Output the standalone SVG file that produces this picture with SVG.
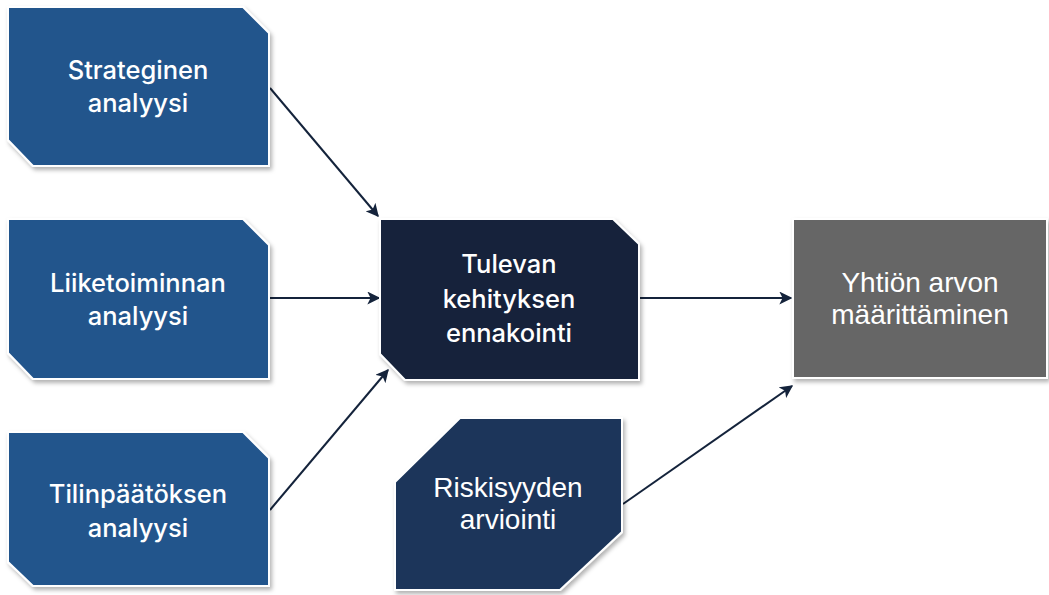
<svg xmlns="http://www.w3.org/2000/svg" width="1049" height="595" viewBox="0 0 1049 595">
<defs>
<filter id="sh" x="-10%" y="-10%" width="125%" height="125%">
<feDropShadow dx="2" dy="3" stdDeviation="2" flood-color="#000" flood-opacity="0.3"/>
</filter>
<marker id="ah" viewBox="0 0 10 10" refX="9" refY="5" markerWidth="6.5" markerHeight="6.5" orient="auto" markerUnits="strokeWidth">
<path d="M0,0 L10,5 L0,10 L2.5,5 Z" fill="#14233b"/>
</marker>
<style>
.box{stroke:#ffffff;stroke-width:2;filter:url(#sh)}
.blue{fill:#22548c}
.dark{fill:#14233b}
.navy{fill:#1b365a}
.gray{fill:#666666}
.t1{font-family:Inter,"Open Sans",sans-serif;font-size:25.5px;font-weight:500;fill:#ffffff;text-anchor:middle}
.t2{font-family:"Liberation Sans",Arial,sans-serif;font-size:28px;fill:#ffffff;text-anchor:middle}
.conn{stroke:#14233b;stroke-width:2;fill:none;marker-end:url(#ah)}
</style>
</defs>
<rect width="1049" height="595" fill="#ffffff"/>
<g id="connectors">
<line class="conn" x1="270" y1="88" x2="378" y2="216"/>
<line class="conn" x1="270" y1="298" x2="379" y2="298"/>
<line class="conn" x1="270" y1="510" x2="388" y2="370"/>
<line class="conn" x1="640" y1="298" x2="791" y2="298"/>
<line class="conn" x1="623" y1="504" x2="792" y2="386"/>
</g>
<g id="strateginen">
<path class="box blue" d="M8,7 L243,7 L269,33 L269,166 L33,166 L8,140 Z"/>
<text class="t1" x="138" y="79">Strateginen</text>
<text class="t1" x="138" y="112">analyysi</text>
</g>
<g id="liiketoiminnan">
<path class="box blue" d="M8,219 L243,219 L269,245 L269,379 L33,379 L8,353 Z"/>
<text class="t1" x="138" y="292">Liiketoiminnan</text>
<text class="t1" x="138" y="325">analyysi</text>
</g>
<g id="tilinpaatoksen">
<path class="box blue" d="M8,432 L243,432 L269,458 L269,586 L33,586 L8,562 Z"/>
<text class="t1" x="138" y="503">Tilinpäätöksen</text>
<text class="t1" x="138" y="537">analyysi</text>
</g>
<g id="tulevan">
<path class="box dark" d="M380,219 L613,219 L639,244 L639,380 L405,380 L380,354 Z"/>
<text class="t1" x="509" y="273">Tulevan</text>
<text class="t1" x="509" y="308">kehityksen</text>
<text class="t1" x="509" y="342">ennakointi</text>
</g>
<g id="yhtion">
<rect class="box gray" x="793" y="219" width="254" height="159"/>
<text class="t2" x="920" y="292">Yhtiön arvon</text>
<text class="t2" x="920" y="324">määrittäminen</text>
</g>
<g id="riskisyyden">
<path class="box navy" d="M460,418 L622,418 L622,532 L560,590 L395,590 L395,482 Z"/>
<text class="t2" x="508" y="497">Riskisyyden</text>
<text class="t2" x="508" y="529">arviointi</text>
</g>
</svg>
